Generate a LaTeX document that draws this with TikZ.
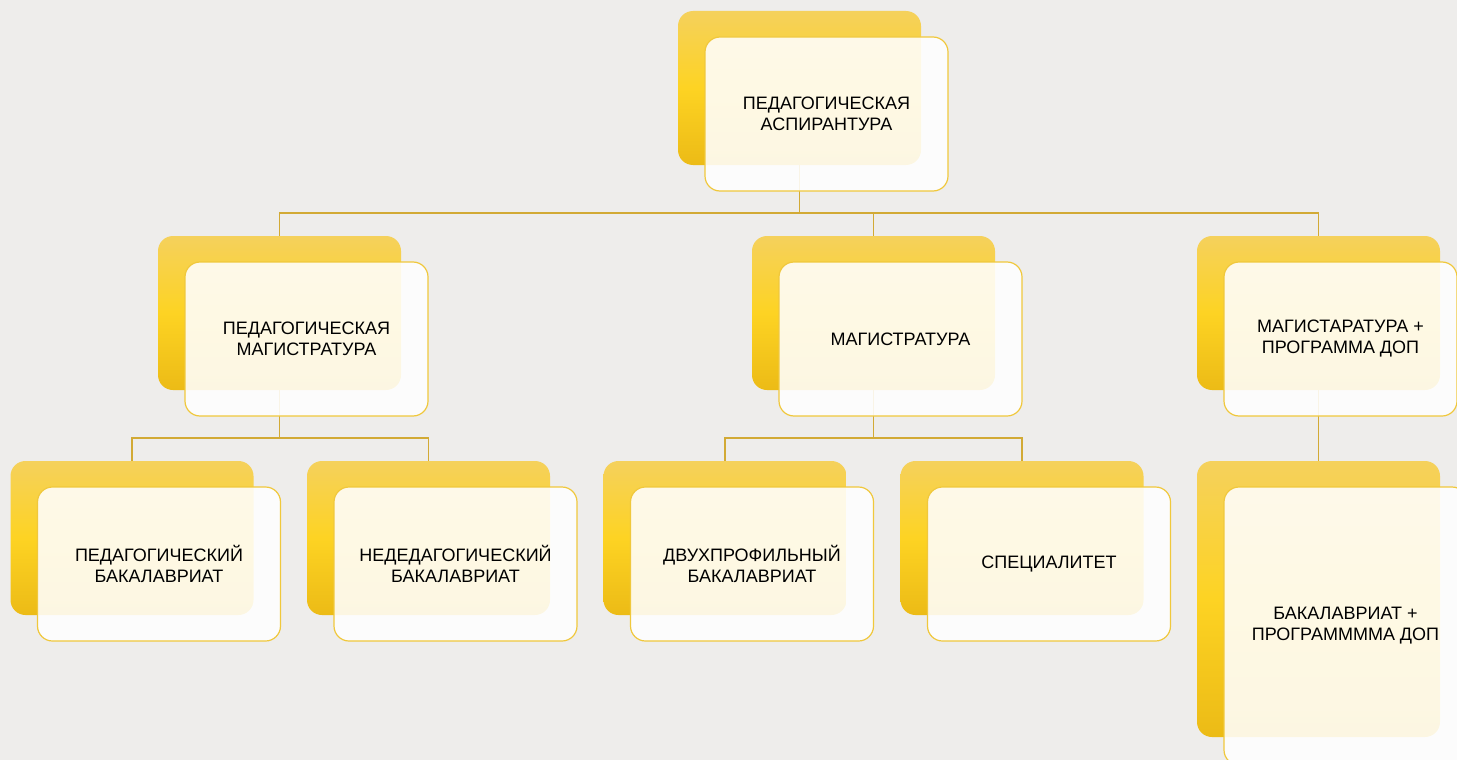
\documentclass[tikz,border=0pt]{standalone}
\usepackage{fontspec}
\setmainfont{Liberation Sans}
\usepackage{xcolor}

\definecolor{bgGrey}{HTML}{EEEDEB}
\definecolor{goldTop}{HTML}{F5D15C}
\definecolor{goldMid}{HTML}{FDD323}
\definecolor{goldBot}{HTML}{ECBB16}
\definecolor{goldEdge}{HTML}{F0C83C}
\definecolor{goldLine}{HTML}{D2AA35}

\begin{document}
\begin{tikzpicture}[x=1pt,y=-1pt,
  back/.style={rectangle, rounded corners=15pt, minimum width=243pt, minimum height=154pt,
    inner sep=0pt, outer sep=0pt, top color=goldTop, bottom color=goldBot, middle color=goldMid},
  front/.style={rectangle, rounded corners=15pt, minimum width=243pt, minimum height=154pt,
    inner sep=0pt, outer sep=0pt, draw=goldEdge, line width=1.2pt, fill=white,
    fill opacity=0.88, text opacity=1, align=center, font=\fontsize{18}{21}\selectfont},
  link/.style={draw=goldLine, line width=1.3pt}]

  % Canvas
  \clip (0,0) rectangle (1457,760);
  \fill[bgGrey] (0,0) rectangle (1457,760);

  % Back cards
  \node[back] (asp-b) at (799.5,88) {};
  \node[back] (pmag-b) at (279.5,313) {};
  \node[back] (mag-b) at (873.5,313) {};
  \node[back] (mdop-b) at (1318.5,313) {};
  \node[back] (pbak-b) at (132,538) {};
  \node[back] (nbak-b) at (428.5,538) {};
  \node[back] (dbak-b) at (725,538) {};
  \node[back] (spec-b) at (1022,538) {};
  \node[back, minimum height=276pt] (bdop-b) at (1318.5,599) {};

  % Tree lines
  \draw[link] (asp-b.south) -- ++(0,48) -| (pmag-b.north);
  \draw[link] (asp-b.south) -- ++(0,48) -| (mag-b.north);
  \draw[link] (asp-b.south) -- ++(0,48) -| (mdop-b.north);
  \draw[link] (pmag-b.south) -- ++(0,48) -| (pbak-b.north);
  \draw[link] (pmag-b.south) -- ++(0,48) -| (nbak-b.north);
  \draw[link] (mag-b.south) -- ++(0,48) -| (dbak-b.north);
  \draw[link] (mag-b.south) -- ++(0,48) -| (spec-b.north);
  \draw[link] (mdop-b.south) -- (bdop-b.north);

  % Front cards with labels
  \node[front] (asp) at ([shift={(27,26)}]asp-b) {ПЕДАГОГИЧЕСКАЯ\\АСПИРАНТУРА};
  \node[front] (pmag) at ([shift={(27,26)}]pmag-b) {ПЕДАГОГИЧЕСКАЯ\\МАГИСТРАТУРА};
  \node[front] (mag) at ([shift={(27,26)}]mag-b) {МАГИСТРАТУРА};
  \node[front, minimum width=233pt] (mdop) at ([shift={(22,26)}]mdop-b) {МАГИСТАРАТУРА +\\ПРОГРАММА ДОП};
  \node[front] (pbak) at ([shift={(27,26)}]pbak-b) {ПЕДАГОГИЧЕСКИЙ\\БАКАЛАВРИАТ};
  \node[front] (nbak) at ([shift={(27,26)}]nbak-b) {НЕДЕДАГОГИЧЕСКИЙ\\БАКАЛАВРИАТ};
  \node[front] (dbak) at ([shift={(27,26)}]dbak-b) {ДВУХПРОФИЛЬНЫЙ\\БАКАЛАВРИАТ};
  \node[front] (spec) at ([shift={(27,26)}]spec-b) {СПЕЦИАЛИТЕТ};
  \node[front, minimum height=278pt] (bdop) at ([shift={(27,27)}]bdop-b) {БАКАЛАВРИАТ +\\ПРОГРАММММА ДОП};

\end{tikzpicture}
\end{document}
